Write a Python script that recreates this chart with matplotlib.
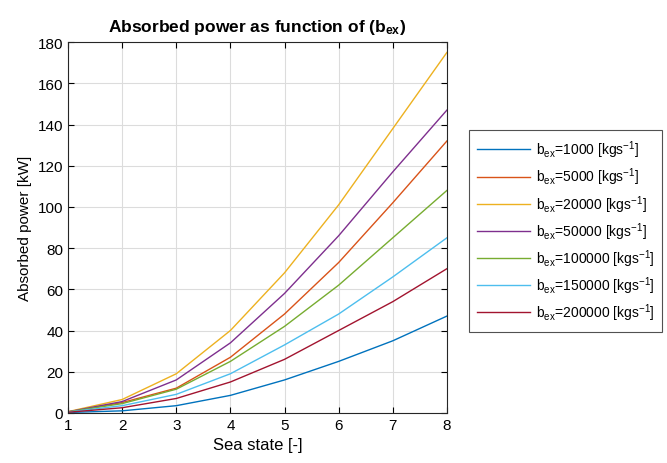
import matplotlib
matplotlib.use("Agg")
import matplotlib.pyplot as plt

plt.rcParams['font.family'] = ['Liberation Sans', 'DejaVu Sans']
plt.rcParams['mathtext.default'] = 'regular'

sea_state = [1, 2, 3, 4, 5, 6, 7, 8]
b_ex = ['1000', '5000', '20000', '50000', '100000', '150000', '200000']
power = [
    [0.2, 1.0, 3.5, 8.5, 16, 25, 35, 47],
    [0.5, 5.0, 12, 27, 48, 73, 102, 132],
    [0.6, 6.5, 19, 40, 68, 101, 138, 175],
    [0.5, 5.5, 16, 34, 58, 86, 117, 147],
    [0.5, 4.5, 11.5, 25, 42, 62, 85, 108],
    [0.4, 3.5, 9, 19, 33, 48, 66, 85],
    [0.3, 2.5, 7, 15, 26, 40, 54, 70],
]
colors = ['#0072BD', '#D95319', '#EDB120', '#7E2F8E', '#77AC30', '#4DBEEE', '#A2142F']

fig = plt.figure(figsize=(6.67, 4.64), dpi=100)
ax = fig.add_axes([0.102, 0.108, 0.568, 0.799])

for vals, lab, c in zip(power, b_ex, colors):
    ax.plot(sea_state, vals, color=c, lw=1.0,
            label=r'b$_{ex}$=' + lab + r' [kgs$^{-1}$]')

ax.set_xlim(1, 8)
ax.set_ylim(0, 180)
ax.set_xticks(range(1, 9))
ax.set_yticks(range(0, 181, 20))
ax.grid(True, color='#dcdcdc', lw=0.8)
ax.tick_params(direction='in', labelsize=11, length=4, top=True, right=True,
               labeltop=False, labelright=False)
for s in ax.spines.values():
    s.set_color('#262626')
    s.set_linewidth(0.8)
ax.set_xlabel('Sea state [-]', fontsize=12)
ax.set_ylabel('Absorbed power [kW]', fontsize=11)
ax.set_title(r'Absorbed power as function of (b$_{ex}$)', fontsize=12.5,
             fontweight='bold', pad=8)

leg = fig.legend(loc='upper left', bbox_to_anchor=(0.703, 0.717), fontsize=10,
                 frameon=True, fancybox=False, edgecolor='#262626',
                 handlelength=3.8, handletextpad=0.4, labelspacing=0.4,
                 borderpad=0.6, borderaxespad=0)
leg.get_frame().set_linewidth(0.8)

fig.savefig('out.png', dpi=100)
